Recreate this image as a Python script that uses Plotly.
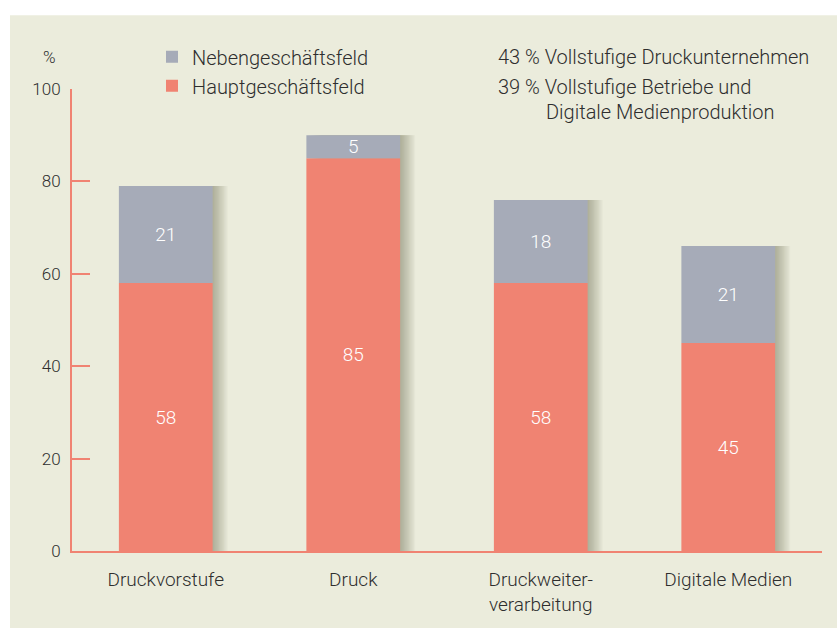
import plotly.graph_objects as go

# Daten
bereiche = ["Druckvorstufe", "Druck", "Druckweiter-<br>verarbeitung", "Digitale Medien"]
haupt = [58, 85, 58, 45]
neben = [21, 5, 18, 21]
gesamt = [h + n for h, n in zip(haupt, neben)]

y_ticks = [0, 20, 40, 60, 80, 100]

# Farben
c_haupt = "#F08372"
c_neben = "#A6ABB8"
c_bg = "#EBECDC"
c_text = "#2E2E2E"
schrift = "Roboto"

x = list(range(len(bereiche)))
px_x = 1 / 187.5  # ein Pixel in x-Einheiten

fig = go.Figure()

# weicher Schatten rechts neben den Balken
for k in range(1, 13):
    fig.add_trace(go.Bar(
        x=x, y=gesamt, base=0,
        width=0.5, offset=-0.25 + 1.25 * k * px_x,
        marker=dict(color="rgba(60,65,40,0.032)", line_width=0),
        showlegend=False, hoverinfo="skip",
    ))

wert_font = dict(color="white", size=19, family=schrift, weight=300)
fig.add_trace(go.Bar(
    x=x, y=haupt, base=0, name="Hauptgeschäftsfeld",
    width=0.5, offset=-0.25,
    marker=dict(color=c_haupt, line_width=0),
    text=haupt, textposition="inside", insidetextanchor="middle",
    textangle=0, constraintext="none", textfont=wert_font,
))
fig.add_trace(go.Bar(
    x=x, y=neben, base=haupt, name="Nebengeschäftsfeld",
    width=0.5, offset=-0.25,
    marker=dict(color=c_neben, line_width=0),
    text=neben, textposition="inside", insidetextanchor="middle",
    textangle=0, constraintext="none", textfont=wert_font,
))

# Hintergrundfläche (weißer Rand oben und links)
fig.add_shape(type="rect", xref="paper", yref="paper", layer="below",
              x0=(10 - 72) / 750, x1=1.1, y0=-0.3, y1=(553 - 15) / 464,
              fillcolor=c_bg, line_width=0)

fig.add_annotation(text="%", xref="paper", yref="paper", x=(58 - 72) / 750, y=(553 - 57) / 464,
                   xanchor="right", yanchor="middle", showarrow=False,
                   font=dict(size=17, color=c_text, family=schrift, weight=300))

notizen = [
    ("43 % Vollstufige Druckunternehmen", 496, 57),
    ("39 % Vollstufige Betriebe und", 496, 87),
    ("Digitale Medienproduktion", 544, 112),
]
for txt, px, py in notizen:
    fig.add_annotation(text=txt, xref="paper", yref="paper",
                       x=(px - 72) / 750, y=(553 - py) / 464,
                       xanchor="left", yanchor="middle", showarrow=False,
                       font=dict(size=20, color=c_text, family=schrift, weight=300))

fig.update_layout(
    width=837, height=628,
    margin=dict(l=72, r=15, t=89, b=75),
    paper_bgcolor="white", plot_bgcolor=c_bg,
    barmode="overlay",
    font=dict(family=schrift, color=c_text, size=17, weight=300),
    legend=dict(x=(152 - 72) / 750, y=(553 - 37) / 464, xanchor="left", yanchor="top",
                xref="paper", yref="paper", traceorder="reversed",
                bgcolor="rgba(0,0,0,0)", font=dict(size=20), itemwidth=30),
    xaxis=dict(range=[-0.5, 3.5], tickvals=x, ticktext=bereiche,
               showgrid=False, zeroline=False, showline=True, linecolor=c_haupt, linewidth=2,
               ticks="", ticklabelstandoff=10, tickfont=dict(size=19)),
    yaxis=dict(range=[0, 100], tickvals=y_ticks, showgrid=False, zeroline=False,
               showline=True, linecolor=c_haupt, linewidth=2,
               ticks="inside", ticklen=18, tickwidth=2, tickcolor=c_haupt,
               ticklabelstandoff=6, tickfont=dict(size=17)),
    showlegend=True,
)

fig.write_html("out.html", config={"displayModeBar": False},
               post_script="document.body.style.margin='0';")
